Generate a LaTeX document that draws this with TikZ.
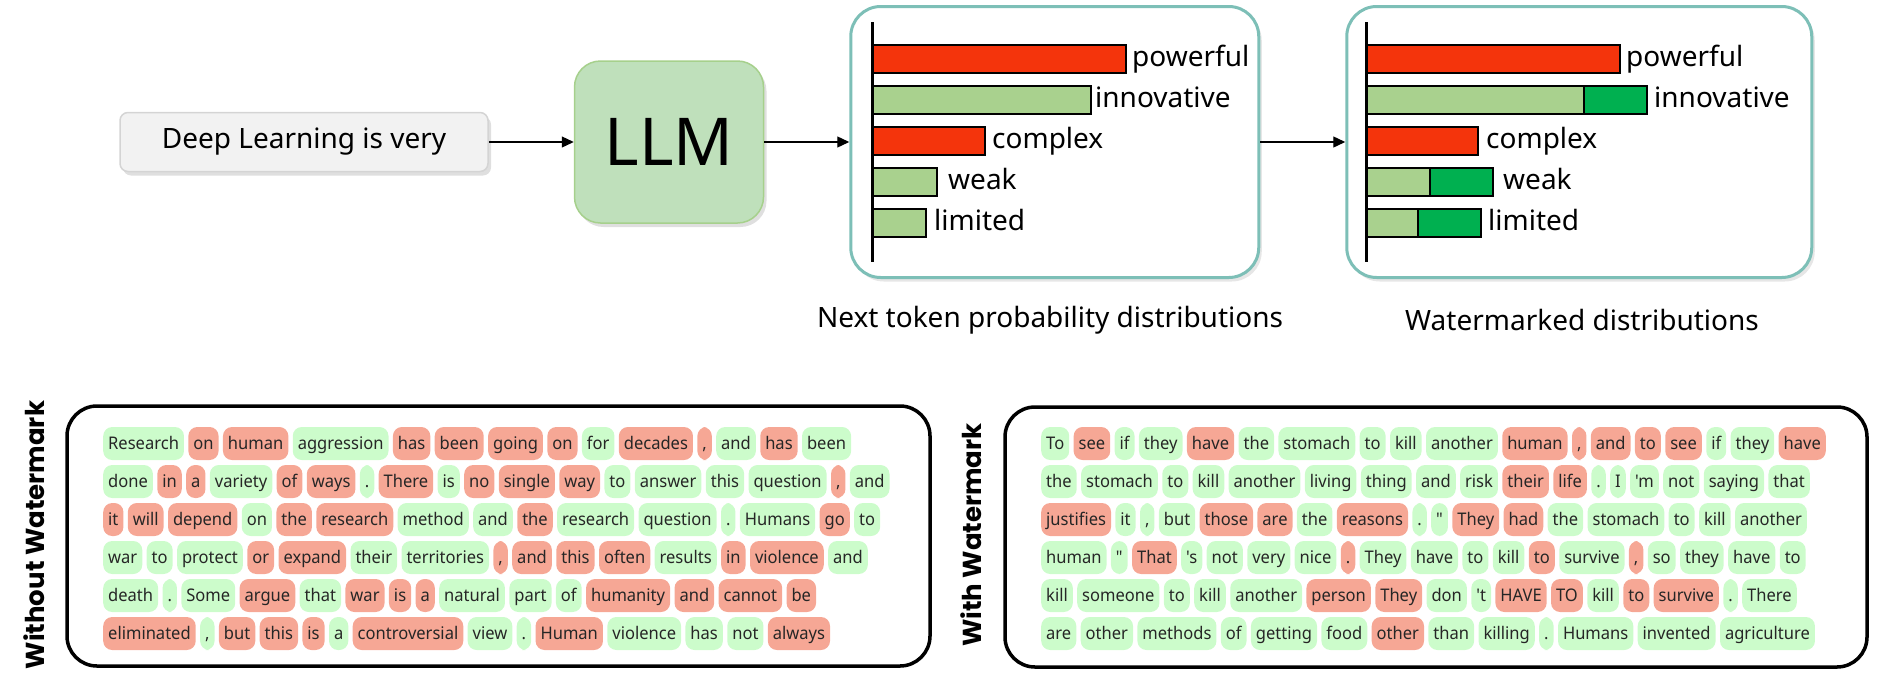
\documentclass[tikz,border=0pt]{standalone}
\usepackage{fontspec}
\setmainfont{Noto Sans}
\newfontfamily\chipfont{Noto Sans}[Ligatures=TeXOff, FakeStretch=0.95]
\newfontfamily\sidefont{Poppins}
\usepackage{tikz}
\usetikzlibrary{arrows.meta,positioning,shadows}

\definecolor{inputfill}{HTML}{F2F2F2}
\definecolor{inputdraw}{HTML}{D4D4D4}
\definecolor{llmfill}{HTML}{BFE0BB}
\definecolor{llmdraw}{HTML}{A6D08C}
\definecolor{panelteal}{HTML}{7DBFB7}
\definecolor{barred}{HTML}{F4340C}
\definecolor{barlight}{HTML}{A9D18E}
\definecolor{bardark}{HTML}{00B050}
\definecolor{tokg}{HTML}{CCFCCB}
\definecolor{tokr}{HTML}{F6A795}

% one row of coloured tokens, chained left to right
\newcommand{\tokrow}[3]{%
  \foreach \w/\c [count=\i, remember=\i as \j (initially 0)] in {#3}{%
    \ifnum\i=1
      \node[tok, fill=tok\c, anchor=west] (#1-\i) at (#2) {\w};
    \else
      \node[tok, fill=tok\c, right=4pt of #1-\j] (#1-\i) {\w};
    \fi
  }%
}

\begin{document}
\begin{tikzpicture}[
  x=1pt, y=-1pt,
  >={Triangle[length=12pt,width=11pt]},
  node distance=85pt,
  every node/.style={text=black},
  big/.style={font=\fontsize{28pt}{32pt}\selectfont},
  inbox/.style={big, draw=inputdraw, line width=1.5pt, fill=inputfill, rounded corners=8pt,
    minimum width=368pt, minimum height=59pt,
    drop shadow={shadow xshift=3pt, shadow yshift=-4pt, opacity=0.25}},
  llm/.style={draw=llmdraw, line width=1.5pt, fill=llmfill, rounded corners=26pt,
    minimum width=189pt, minimum height=162pt, font=\fontsize{66pt}{70pt}\selectfont,
    drop shadow={shadow xshift=3pt, shadow yshift=-4pt, opacity=0.25}},
  panel/.style={draw=panelteal, line width=3pt, fill=white, rounded corners=30pt,
    minimum height=271pt,
    drop shadow={shadow xshift=3pt, shadow yshift=-4pt, opacity=0.2}},
  edge/.style={->, line width=1.3pt, draw=black},
  bar/.style={draw=black, line width=2.5pt},
  axis/.style={draw=black, line width=3pt},
  outbox/.style={draw=black, line width=3.5pt, rounded corners=30pt,
    minimum width=863pt, minimum height=260pt},
  side/.style={font=\sidefont\bfseries\fontsize{26pt}{30pt}\selectfont, rotate=90},
  tok/.style={font=\chipfont\fontsize{17.4pt}{20pt}\selectfont, text=black!85,
    rounded corners=9pt, inner xsep=5pt, inner ysep=0pt,
    text height=12.5pt, text depth=0pt, minimum height=33pt}
]
\useasboundingbox (0,0) rectangle (1879,681);

% ---- top pipeline ----
\node[inbox] (in) at (304,142) {Deep Learning is very};
\node[llm] (llm) [right=of in] {LLM};
\node[panel, minimum width=408pt] (P1) [right=of llm] {};
\node[panel, minimum width=465pt] (P2) [right=of P1] {};

\draw[edge] (in) -- (llm);
\draw[edge] (llm) -- (P1);
\draw[edge] (P1) -- (P2);

% ---- next token distribution ----
\foreach \y/\xe/\c/\w/\lx in {45/1126/barred/powerful/1132, 86/1091/barlight/innovative/1095,
    127/985/barred/complex/992, 168/937/barlight/weak/948, 209/926/barlight/limited/934}{
  \draw[bar, fill=\c] (872,\y) rectangle (\xe,\y+28);
  \node[big, anchor=base west, inner sep=0pt] (p1-\w) at (\lx,\y+21.5) {\w};
}
\draw[axis] (872,22) -- (872,262);
\node[big] (cap1) at (1050,320) {Next token probability distributions};

% ---- watermarked distribution ----
\foreach \y/\xa/\xe/\c/\w/\lx in {45/1620/1620/barred/powerful/1626, 86/1584/1647/barlight/innovative/1654,
    127/1478/1478/barred/complex/1486, 168/1430/1493/barlight/weak/1503, 209/1418/1481/barlight/limited/1488}{
  \draw[bar, fill=bardark] (1366,\y) rectangle (\xe,\y+28);
  \draw[bar, fill=\c] (1366,\y) rectangle (\xa,\y+28);
  \node[big, anchor=base west, inner sep=0pt] (p2-\w) at (\lx,\y+21.5) {\w};
}
\draw[axis] (1366,22) -- (1366,262);
\node[big] (cap2) at (1582,320) {Watermarked distributions};

% ---- without watermark ----
\node[side] (lab1) at (34,535) {Without Watermark};
\node[outbox] (wo) at (498.5,536) {};
\tokrow{W1}{103,443.5}{Research/g, on/r, human/r, aggression/g, has/r, been/r, going/r, on/r, for/g, decades/r, {,}/r, and/g, has/r, been/g}
\tokrow{W2}{103,481.5}{done/g, in/r, a/r, variety/g, of/r, ways/r, ./g, There/r, is/g, no/r, single/r, way/r, to/g, answer/g, this/g, question/g, {,}/r, and/g}
\tokrow{W3}{103,519.5}{it/r, will/r, depend/r, on/g, the/r, research/r, method/g, and/g, the/r, research/g, question/g, ./g, Humans/g, go/r, to/g}
\tokrow{W4}{103,557.5}{war/g, to/g, protect/g, or/r, expand/r, their/g, territories/g, {,}/r, and/r, this/r, often/r, results/g, in/r, violence/r, and/g}
\tokrow{W5}{103,595.5}{death/g, ./g, Some/g, argue/r, that/g, war/r, is/r, a/r, natural/g, part/g, of/g, humanity/r, and/r, cannot/r, be/r}
\tokrow{W6}{103,633.5}{eliminated/r, {,}/g, but/r, this/r, is/r, a/g, controversial/r, view/g, ./g, Human/r, violence/g, has/g, not/g, always/r}

% ---- with watermark ----
\node[side] (lab2) at (971,535) {With Watermark};
\node[outbox, minimum width=862pt] (wm) at (1436,537) {};
\tokrow{M1}{1041,443.5}{To/g, see/r, if/g, they/g, have/r, the/g, stomach/g, to/g, kill/g, another/g, human/r, {,}/r, and/r, to/r, see/r, if/g, they/g, have/r}
\tokrow{M2}{1041,481.5}{the/g, stomach/g, to/g, kill/g, another/g, living/g, thing/g, and/g, risk/g, their/r, life/r, ./g, I/g, 'm/g, not/g, saying/g, that/g}
\tokrow{M3}{1041,519.5}{justifies/r, it/g, {,}/g, but/g, those/r, are/r, the/g, reasons/r, ./g, "/g, They/r, had/r, the/g, stomach/g, to/g, kill/g, another/g}
\tokrow{M4}{1041,557.5}{human/g, "/g, That/r, 's/g, not/g, very/g, nice/g, ./r, They/g, have/g, to/g, kill/g, to/r, survive/g, {,}/r, so/g, they/g, have/g, to/g}
\tokrow{M5}{1041,595.5}{kill/g, someone/g, to/g, kill/g, another/g, person/r, They/r, don/g, 't/g, HAVE/r, TO/r, kill/g, to/r, survive/r, ./g, There/g}
\tokrow{M6}{1041,633.5}{are/g, other/g, methods/g, of/g, getting/g, food/g, other/r, than/g, killing/g, ./g, Humans/g, invented/g, agriculture/g}

\end{tikzpicture}
\end{document}
